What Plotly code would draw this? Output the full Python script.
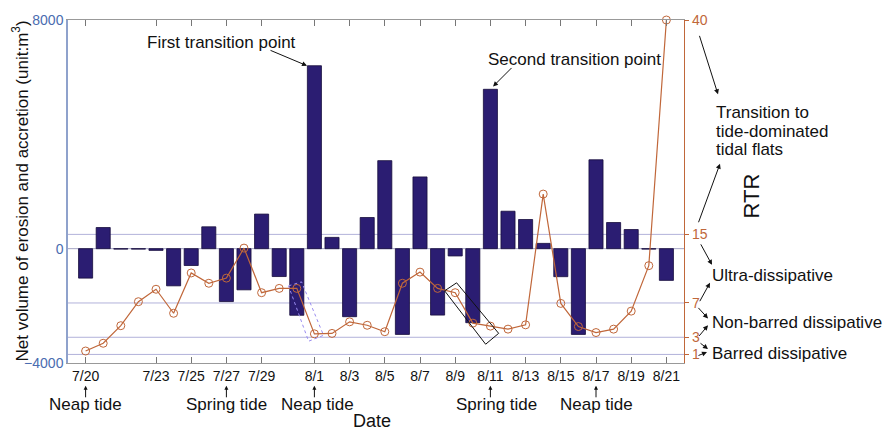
import plotly.graph_objects as go

# Survey sequence (one entry per survey) and the dates shown on the axis
survey_idx = list(range(34))
tick_pos = [0, 4, 6, 8, 10, 13, 15, 17, 19, 21, 23, 25, 27, 29, 31, 33]
tick_labels = ["7/20", "7/23", "7/25", "7/27", "7/29", "8/1", "8/3", "8/5",
               "8/7", "8/9", "8/11", "8/13", "8/15", "8/17", "8/19", "8/21"]

# Net volume of erosion (-) and accretion (+), m^3
net_volume = [-1030, 740, -15, -15, -60, -1300, -590, 765, -1850, -1440,
              1210, -975, -2330, 6400, 395, -2380, 1090, 3080, -3000, 2510,
              -2325, -255, -2590, 5575, 1310, 1020, 185, -980, -3000, 3110,
              915, 670, -15, -1110]

# Relative tide range
rtr = [1.4, 2.3, 4.35, 7.15, 8.6, 5.8, 10.5, 9.3, 9.9, 13.4,
       8.2, 8.7, 8.7, 3.4, 3.45, 4.8, 4.4, 3.65, 9.3, 10.6,
       8.7, 8.2, 4.65, 4.3, 3.95, 4.45, 19.7, 6.95, 4.25, 3.55,
       3.95, 6.05, 11.35, 40]

rtr_ticks = [1, 3, 7, 15, 40]
vol_ticks = [-4000, 0, 8000]

# Tidal phase markers under the date axis
tide_pos = [0, 8, 13, 23, 29]
tide_names = ["Neap tide", "Spring tide", "Neap tide", "Spring tide", "Neap tide"]
tide_shift = [0, 0, 3, 6, 0]

FONT = "Liberation Sans, Arial, sans-serif"
BAR = "#2b1d72"
RTR_C = "#c0673a"
BLUE = "#4a6cb0"

# plot area in pixels
L, R, T, B = 68, 684, 17, 363


def px(x, y):
    return (x - L) / (R - L), (B - y) / (B - T)


fig = go.Figure()
fig.add_trace(go.Bar(x=survey_idx, y=net_volume, width=0.8,
                     marker=dict(color=BAR, line=dict(color="#160c3c", width=0.8)),
                     yaxis="y", showlegend=False))
fig.add_trace(go.Scatter(x=survey_idx, y=rtr, yaxis="y2", mode="lines+markers",
                         line=dict(color=RTR_C, width=1.2),
                         marker=dict(symbol="circle-open", size=8, color=RTR_C,
                                     line=dict(width=1)),
                         cliponaxis=False, showlegend=False))

shapes = []
# horizontal guides at the RTR class limits
for v in rtr_ticks[:-1]:
    shapes.append(dict(type="line", xref="paper", x0=0, x1=1, yref="y2", y0=v, y1=v,
                       line=dict(color="#b2b2da", width=1), layer="below"))
shapes.append(dict(type="line", xref="paper", x0=0, x1=1, yref="y", y0=0, y1=0,
                   line=dict(color="#a4a4c4", width=1), layer="below"))
# highlighted RTR drops
shapes.append(dict(type="path", xref="x", yref="y2",
                   path="M 11.53 9.0 L 12.27 9.46 L 13.52 3.23 L 12.67 2.54 Z",
                   line=dict(color="#9a8cf0", width=1, dash="dot")))
shapes.append(dict(type="path", xref="x", yref="y2",
                   path="M 20.40 8.42 L 21.08 9.35 L 23.47 3.46 L 22.73 2.19 Z",
                   line=dict(color="#111111", width=1)))

ann = []


def text(x, y, s, size=17, anchor="center", angle=0, color="#111111"):
    xp, yp = px(x, y)
    ann.append(dict(xref="paper", yref="paper", x=xp, y=yp, text=s, showarrow=False,
                    xanchor=anchor, yanchor="middle", textangle=angle,
                    font=dict(family=FONT, size=size, color=color)))


def arrow(x0, y0, x1, y1):
    xp, yp = px(x1, y1)
    ann.append(dict(xref="paper", yref="paper", x=xp, y=yp, text="", showarrow=True,
                    ax=x0 - x1, ay=y0 - y1, arrowhead=2, arrowsize=1,
                    arrowwidth=1, arrowcolor="#111111"))


# transition points pointing at the bar tops
ann.append(dict(x=13 - 0.42, y=net_volume[13], xref="x", yref="y", text="",
                showarrow=True, ax=-38, ay=-16, arrowhead=2, arrowsize=1,
                arrowwidth=1, arrowcolor="#111111"))
ann.append(dict(x=23 + 0.15, y=net_volume[23] + 100, xref="x", yref="y", text="",
                showarrow=True, ax=20, ay=-20, arrowhead=2, arrowsize=1,
                arrowwidth=1, arrowcolor="#111111"))
text(221, 40, "First transition point")
text(574, 57, "Second transition point")

# RTR classes to the right
text(714, 110, "Transition to", anchor="left")
text(714, 129, "tide-dominated", anchor="left")
text(714, 148, "tidal flats", anchor="left")
text(751, 195, "RTR", size=22, angle=-90)
text(710, 275, "Ultra-dissipative", anchor="left")
text(710, 322, "Non-barred dissipative", anchor="left")
text(710, 353, "Barred dissipative", anchor="left")
arrow(699, 32, 718, 92)
arrow(698, 222, 720, 162)
arrow(700, 242, 712, 264)
arrow(699, 302, 710, 282)
arrow(697, 306, 708, 318)
arrow(698, 337, 708, 325)
arrow(699, 342, 708, 349)
arrow(697, 356, 707, 352)

# y-axis and x-axis titles
text(20, 190, "Net volume of erosion and accretion (unit:m<sup>3</sup>)", angle=-90)
text(372, 422, "Date", size=18)

# tide markers below the dates
for pos, name, sh in zip(tide_pos, tide_names, tide_shift):
    ann.append(dict(x=pos, xref="x", y=px(0, 386)[1], yref="paper", text="",
                    showarrow=True, ax=0, ay=13, arrowhead=2, arrowsize=0.8,
                    arrowwidth=1, arrowcolor="#111111"))
    ann.append(dict(x=pos, xref="x", y=px(0, 405)[1], yref="paper", text=name,
                    showarrow=False, xanchor="center", yanchor="middle", xshift=sh,
                    font=dict(family=FONT, size=17, color="#111111")))

fig.update_layout(
    width=883, height=433,
    margin=dict(l=L, r=883 - R, t=T, b=433 - B),
    paper_bgcolor="white", plot_bgcolor="white",
    bargap=0.2,
    font=dict(family=FONT, size=14, color="#111111"),
    xaxis=dict(range=[-1, 34], tickmode="array", tickvals=tick_pos, ticktext=tick_labels,
               ticks="inside", ticklen=6, tickcolor="#777777", showline=True,
               linecolor="#999999", linewidth=1.2, mirror="ticks", showgrid=False,
               zeroline=False, tickfont=dict(family=FONT, size=14, color="#111111")),
    yaxis=dict(range=[-4000, 8000], tickmode="array", tickvals=vol_ticks,
               ticks="", showline=True, linecolor="#8fa2cc", linewidth=1.5,
               showgrid=False, zeroline=False,
               tickfont=dict(family=FONT, size=14, color=BLUE)),
    yaxis2=dict(range=[0, 40], overlaying="y", side="right", tickmode="array",
                tickvals=rtr_ticks, ticks="outside", ticklen=4, tickcolor=RTR_C,
                showline=True, linecolor=RTR_C, linewidth=1.2, showgrid=False,
                zeroline=False, tickfont=dict(family=FONT, size=14, color=RTR_C)),
    shapes=shapes,
    annotations=ann,
)

fig.write_html("out.html")
